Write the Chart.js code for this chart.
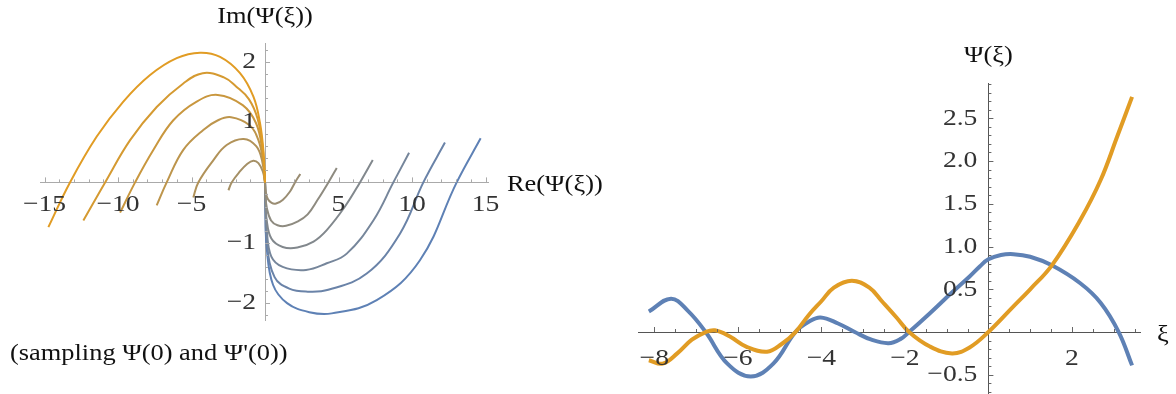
<!DOCTYPE html>
<html>
<head>
<meta charset="utf-8">
<script src="https://cdn.jsdelivr.net/npm/chart.js@4"></script>
<style>
  html, body { margin: 0; padding: 0; background: #fff; }
  body { width: 1176px; height: 394px; position: relative; overflow: hidden; }
  canvas { position: absolute; top: 0; }
  #left { left: 0; }
  #right { left: 620px; }
</style>
</head>
<body>
<canvas id="left" width="620" height="394"></canvas>
<canvas id="right" width="556" height="394"></canvas>
<script>
// left panel: curves above the axis, outer (orange) to inner
const arcRe1 = [-14.74, -13.27, -11.45, -9.64, -7.82, -6.01, -4.42, -3.06, -1.70, -0.79, -0.34, -0.10, 0];
const arcIm1 = [-0.74, 0, 0.76, 1.34, 1.78, 2.06, 2.15, 2.08, 1.81, 1.42, 0.98, 0.50, 0];
const arcRe2 = [-12.36, -10.88, -9.18, -7.37, -5.56, -4.24, -2.80, -1.97, -1.10, -0.50, -0.15, 0];
const arcIm2 = [-0.63, 0, 0.70, 1.25, 1.64, 1.81, 1.74, 1.59, 1.38, 1.05, 0.55, 0];
const arcRe3 = [-9.86, -8.84, -7.59, -6.24, -4.65, -3.22, -1.52, -0.61, -0.20, 0];
const arcIm3 = [-0.50, 0, 0.54, 1.03, 1.34, 1.45, 1.28, 0.98, 0.55, 0];
const arcRe4 = [-7.37, -6.69, -5.56, -4.20, -3.20, -2.31, -1.07, -0.45, -0.12, 0];
const arcIm4 = [-0.38, 0, 0.54, 0.87, 1.03, 1.08, 0.95, 0.70, 0.33, 0];
const arcRe5 = [-4.88, -4.54, -3.51, -2.61, -1.45, -0.60, -0.20, 0];
const arcIm5 = [-0.25, 0, 0.37, 0.62, 0.72, 0.60, 0.36, 0];
const arcRe6 = [-2.49, -2.27, -1.75, -1.20, -0.80, -0.45, -0.15, 0];
const arcIm6 = [-0.13, 0, 0.17, 0.31, 0.36, 0.32, 0.18, 0];

// left panel: curves below the axis, inner (gray) to outer (blue)
const loopRe1 = [0, 0.05, 0.18, 0.45, 0.75, 1.20, 1.70, 2.04, 2.40];
const loopIm1 = [0, -0.15, -0.27, -0.34, -0.35, -0.29, -0.15, 0, 0.14];
const loopRe2 = [0, 0.03, 0.12, 0.41, 0.85, 1.43, 2.20, 2.90, 3.60, 4.31, 4.88];
const loopIm2 = [0, -0.20, -0.42, -0.63, -0.71, -0.72, -0.65, -0.53, -0.28, 0, 0.24];
const loopRe3 = [0, 0.03, 0.10, 0.43, 1.20, 2.20, 3.30, 4.20, 5.44, 6.46, 7.33];
const loopIm3 = [0, -0.30, -0.60, -0.93, -1.07, -1.08, -0.98, -0.79, -0.40, 0, 0.37];
const loopRe4 = [0, 0.03, 0.12, 0.43, 1.20, 2.79, 4.20, 5.56, 7.37, 8.73, 9.80];
const loopIm4 = [0, -0.35, -0.80, -1.23, -1.40, -1.45, -1.34, -1.18, -0.63, 0, 0.49];
const loopRe5 = [0, 0.03, 0.12, 0.65, 1.65, 2.90, 4.30, 6.92, 9.18, 10.77, 12.24];
const loopIm5 = [0, -0.40, -1.00, -1.57, -1.76, -1.81, -1.78, -1.51, -0.85, 0, 0.66];
const loopRe6 = [0, 0.03, 0.12, 0.55, 1.50, 3.01, 4.54, 7.60, 10.54, 13.04, 14.67];
const loopIm6 = [0, -0.50, -1.10, -1.70, -2.00, -2.15, -2.17, -1.95, -1.29, 0, 0.73];

// right panel: Ψ(ξ) for two solutions
const blueXi = [-8.13, -7.6, -7.2, -6.77, -6.25, -5.69, -5.15, -4.62, -4.3, -4.02, -3.6, -3.2, -2.8, -2.39, -2.1, -1.9, -1.4, -0.9, -0.45, -0.2, 0, 0.3, 0.6, 1.0, 1.52, 2.2, 2.69, 3.12, 3.44];
const blueVal = [0.24, 0.39, 0.25, 0, -0.37, -0.52, -0.37, 0, 0.12, 0.17, 0.10, 0, -0.09, -0.13, -0.08, 0, 0.22, 0.45, 0.65, 0.77, 0.85, 0.90, 0.91, 0.88, 0.78, 0.57, 0.34, 0, -0.39];
const orangeXi = [-8.13, -7.8, -7.45, -7.1, -6.77, -6.55, -6.2, -5.8, -5.3, -4.95, -4.62, -4.3, -4.0, -3.7, -3.27, -2.85, -2.55, -2.2, -1.9, -1.4, -0.87, -0.45, 0, 0.6, 1.0, 1.52, 2.2, 2.69, 3.08, 3.44];
const orangeVal = [-0.33, -0.37, -0.25, -0.09, 0, 0.02, -0.05, -0.17, -0.23, -0.14, 0, 0.20, 0.36, 0.52, 0.60, 0.52, 0.36, 0.17, 0, -0.17, -0.25, -0.18, 0, 0.30, 0.50, 0.78, 1.31, 1.78, 2.28, 2.75];

const ORANGE = [225, 156, 36];
const BLUE = [94, 129, 181];
const SERIF = '"Liberation Serif", "Times New Roman", serif';

function mix(t) {
  const c = ORANGE.map((o, i) => Math.round(o + (BLUE[i] - o) * t));
  return 'rgb(' + c.join(',') + ')';
}
function pts(xs, ys) {
  return xs.map((x, i) => ({ x: x, y: ys[i] }));
}
function minus(s) {
  return String(s).replace('-', '\u2212');
}
// text drawn a little wider than the font, like the reference
function wideText(ctx, text, x, y, align, sx) {
  ctx.save();
  ctx.translate(x, y);
  ctx.scale(sx, 1);
  ctx.textAlign = align;
  ctx.fillText(text, 0, 0);
  ctx.restore();
}

// axes through the origin, Mathematica style: x ticks point up, y ticks point right
const axisTicks = {
  id: 'axisTicks',
  afterDatasetsDraw(chart, args, o) {
    const ctx = chart.ctx;
    const xs = chart.scales.x, ys = chart.scales.y;
    const x0 = xs.getPixelForValue(0), y0 = ys.getPixelForValue(0);
    ctx.save();
    ctx.strokeStyle = o.color;
    ctx.lineWidth = 1;
    ctx.beginPath();
    for (let k = Math.ceil(xs.min / o.xMinor); k * o.xMinor <= xs.max; k++) {
      const v = k * o.xMinor;
      if (Math.abs(v) < 1e-9) continue;
      const r = v / o.xMajor;
      const len = Math.abs(r - Math.round(r)) < 1e-6 ? 5 : 3;
      const px = Math.round(xs.getPixelForValue(v)) + 0.5;
      ctx.moveTo(px, y0);
      ctx.lineTo(px, y0 - len);
    }
    for (let k = Math.ceil(ys.min / o.yMinor); k * o.yMinor <= ys.max; k++) {
      const v = k * o.yMinor;
      if (Math.abs(v) < 1e-9) continue;
      const r = v / o.yMajor;
      const len = Math.abs(r - Math.round(r)) < 1e-6 ? 5 : 3;
      const py = Math.round(ys.getPixelForValue(v)) + 0.5;
      ctx.moveTo(x0, py);
      ctx.lineTo(x0 + len, py);
    }
    ctx.stroke();
    ctx.restore();
  },
  afterDraw(chart, args, o) {
    const ctx = chart.ctx;
    const xs = chart.scales.x, ys = chart.scales.y;
    const x0 = xs.getPixelForValue(0), y0 = ys.getPixelForValue(0);
    ctx.save();
    ctx.textBaseline = 'middle';
    // tick labels from the scales' own ticks
    ctx.fillStyle = '#333';
    ctx.font = '24px ' + SERIF;
    xs.ticks.forEach(t => {
      if (Math.abs(t.value) < 1e-9) return;
      wideText(ctx, minus(o.xFmt(t.value)), xs.getPixelForValue(t.value), y0 + o.xGap, 'center', 1.15);
    });
    ys.ticks.forEach(t => {
      if (Math.abs(t.value) < 1e-9) return;
      wideText(ctx, minus(o.yFmt(t.value)), x0 - o.yGap, ys.getPixelForValue(t.value), 'right', 1.15);
    });
    // axis titles and caption
    ctx.fillStyle = '#111';
    (o.labels || []).forEach(l => {
      const p = l.place(xs, ys, x0, y0);
      wideText(ctx, l.text, p[0], p[1], l.align, 1.1);
    });
    ctx.restore();
  }
};

function axes(xmin, xmax, xstep, ymin, ymax, ystep, axisColor) {
  return {
    x: {
      type: 'linear', min: xmin, max: xmax,
      position: { y: 0 },
      afterFit: s => { s.height = 0; s.paddingLeft = 0; s.paddingRight = 0; s.paddingTop = 0; s.paddingBottom = 0; },
      border: { display: true, color: axisColor, width: 1 },
      grid: { display: true, drawOnChartArea: false, drawTicks: false },
      ticks: { display: false, stepSize: xstep, includeBounds: false, autoSkip: false }
    },
    y: {
      type: 'linear', min: ymin, max: ymax,
      position: { x: 0 },
      afterFit: s => { s.width = 0; s.paddingLeft = 0; s.paddingRight = 0; s.paddingTop = 0; s.paddingBottom = 0; },
      border: { display: true, color: axisColor, width: 1 },
      grid: { display: true, drawOnChartArea: false, drawTicks: false },
      ticks: { display: false, stepSize: ystep, includeBounds: false, autoSkip: false }
    }
  };
}

const arcs = [[arcRe1, arcIm1], [arcRe2, arcIm2], [arcRe3, arcIm3], [arcRe4, arcIm4], [arcRe5, arcIm5], [arcRe6, arcIm6]];
const loops = [[loopRe1, loopIm1], [loopRe2, loopIm2], [loopRe3, loopIm3], [loopRe4, loopIm4], [loopRe5, loopIm5], [loopRe6, loopIm6]];
const leftSets = arcs.concat(loops).map((c, i) => ({
  data: pts(c[0], c[1]),
  borderColor: mix(i / 11),
  borderWidth: 2,
  pointRadius: 0,
  showLine: true,
  tension: 0.4,
  fill: false
}));

new Chart(document.getElementById('left'), {
  type: 'scatter',
  data: { datasets: leftSets },
  options: {
    responsive: false,
    animation: false,
    layout: { padding: { left: 40, right: 132, top: 43, bottom: 74 } },
    plugins: {
      legend: { display: false },
      tooltip: { enabled: false },
      axisTicks: {
        color: '#aaa', xMinor: 1, xMajor: 5, yMinor: 0.2, yMajor: 1,
        xGap: 22, yGap: 9,
        xFmt: v => String(v), yFmt: v => String(v),
        labels: [
          { text: 'Im(\u03A8(\u03BE))', align: 'center', place: (xs, ys, x0) => [x0, ys.top - 26] },
          { text: 'Re(\u03A8(\u03BE))', align: 'left', place: (xs, ys, x0, y0) => [xs.right + 19, y0 + 2] },
          { text: '(sampling \u03A8(0) and \u03A8\'(0))', align: 'left', place: (xs, ys) => [10, ys.bottom + 34] }
        ]
      }
    },
    scales: axes(-15.31, 15.17, 5, -2.28, 2.31, 1, '#aaa')
  },
  plugins: [axisTicks]
});

new Chart(document.getElementById('right'), {
  type: 'line',
  data: {
    datasets: [
      { data: pts(orangeXi, orangeVal), borderColor: 'rgb(225,156,36)', order: 0 },
      { data: pts(blueXi, blueVal), borderColor: 'rgb(94,129,181)', order: 1 }
    ]
  },
  options: {
    responsive: false,
    animation: false,
    elements: {
      line: { borderWidth: 4, tension: 0.4, fill: false },
      point: { radius: 0 }
    },
    layout: { padding: { left: 18, right: 36, top: 83, bottom: 1 } },
    plugins: {
      legend: { display: false },
      tooltip: { enabled: false },
      axisTicks: {
        color: '#666', xMinor: 0.5, xMajor: 2, yMinor: 0.1, yMajor: 0.5,
        xGap: 27, yGap: 11,
        xFmt: v => String(v), yFmt: v => v.toFixed(1),
        labels: [
          { text: '\u03A8(\u03BE)', align: 'center', place: (xs, ys, x0) => [x0, ys.top - 27] },
          { text: '\u03BE', align: 'left', place: (xs, ys, x0, y0) => [xs.right + 17, y0 + 3] }
        ]
      }
    },
    scales: axes(-8.39, 3.63, 2, -0.713, 2.912, 0.5, '#555')
  },
  plugins: [axisTicks]
});
</script>
</body>
</html>
